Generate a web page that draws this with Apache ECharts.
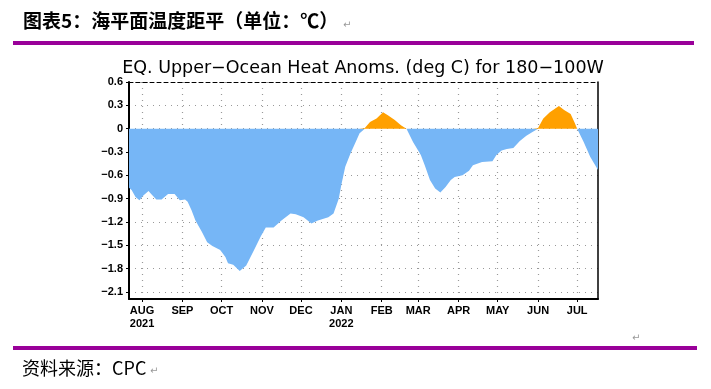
<!DOCTYPE html>
<html><head><meta charset="utf-8">
<script src="https://cdn.jsdelivr.net/npm/echarts@6/dist/echarts.min.js"></script>
<style>html,body{margin:0;padding:0;background:#fff}#c{width:711px;height:389px}</style>
</head><body><div id="c"></div>
<script>
// days since 2021-08-01
const days = [-10,-8,-5,-2,1,5,7,11,15,20,25,29,33,35,38,41,46,50,54,60,64,66,70,75,80,86,91,95,101,107,114,118,124,130,135,143,147,151,153,156,160,164,167,171,175,180,185,189,194,199,203,208,214,217,221,225,229,233,237,240,246,251,254,261,269,272,276,280,285,290,295,300,304,308,313,320,324,329,332,334,339,344,350];
const anomaly = [-0.76,-0.79,-0.88,-0.92,-0.86,-0.80,-0.84,-0.91,-0.91,-0.84,-0.84,-0.92,-0.91,-0.94,-1.05,-1.18,-1.33,-1.46,-1.51,-1.56,-1.65,-1.73,-1.75,-1.83,-1.76,-1.56,-1.39,-1.27,-1.27,-1.18,-1.09,-1.10,-1.14,-1.22,-1.18,-1.14,-1.09,-0.90,-0.72,-0.49,-0.32,-0.17,-0.06,0.01,0.085,0.13,0.21,0.17,0.11,0.04,0.0,-0.17,-0.34,-0.47,-0.66,-0.77,-0.82,-0.75,-0.66,-0.62,-0.60,-0.54,-0.47,-0.43,-0.42,-0.34,-0.28,-0.26,-0.25,-0.16,-0.09,-0.04,0.01,0.13,0.21,0.29,0.24,0.19,0.08,0.0,-0.17,-0.36,-0.53];
const monthDays = [0,31,61,92,122,153,184,212,243,273,304,334];
const monthLabels = ['AUG\n2021','SEP','OCT','NOV','DEC','JAN\n2022','FEB','MAR','APR','MAY','JUN','JUL'];
const yTicks = [0.6,0.3,0,-0.3,-0.6,-0.9,-1.2,-1.5,-1.8,-2.1];

const chart = echarts.init(document.getElementById('c'));
const negData = days.map((d,i)=>[d, Math.min(anomaly[i],0)]);
const posData = days.map((d,i)=>[d, Math.max(anomaly[i],0)]);
const labFont = {fontFamily:'Liberation Sans Narrow, Liberation Sans, Arial', fontWeight:'bold', fontSize:11, color:'#000'};
const ymin = -2.19, ymax = 0.6, xmin = -10, xmax = 350;
const dotLine = {show:true, lineStyle:{type:[1,5], color:'#999', width:1.2}};
chart.setOption({
  animation:false,
  grid: {left:129, right:113, top:82, bottom:90},
  xAxis: [{
    type:'value', min:xmin, max:xmax, position:'bottom',
    axisLine:{show:true, onZero:false, lineStyle:{color:'#000', width:2}},
    axisTick:{show:true, customValues:monthDays, length:3, lineStyle:{color:'#000'}},
    axisLabel:Object.assign({customValues:monthDays, margin:5, lineHeight:13,
      formatter:v=>{const i=monthDays.indexOf(v); return i>=0?monthLabels[i]:'';}}, labFont),
    splitLine:dotLine
  },{
    type:'value', min:xmin, max:xmax, position:'top',
    axisLine:{show:true, onZero:false, lineStyle:{color:'#000', width:1, type:[4,3]}},
    axisTick:{show:false}, axisLabel:{show:false}, splitLine:{show:false}
  }],
  yAxis: [{
    type:'value', min:ymin, max:ymax, position:'left',
    axisLine:{show:true, onZero:false, lineStyle:{color:'#000', width:2}},
    axisTick:{show:true, customValues:yTicks, length:3, lineStyle:{color:'#000'}},
    axisLabel:Object.assign({customValues:yTicks, margin:6,
      formatter:v=>{ if (Math.abs(v)<1e-9) return '0'; return (v<0?'\u2212':'')+Math.abs(v).toFixed(1);}}, labFont),
    splitLine:dotLine
  },{
    type:'value', min:ymin, max:ymax, position:'right',
    axisLine:{show:true, onZero:false, lineStyle:{color:'#000', width:1.5}},
    axisTick:{show:false}, axisLabel:{show:false}, splitLine:{show:false}
  }],
  series: [{
    name:'neg', type:'line', xAxisIndex:0, yAxisIndex:0, data:negData,
    showSymbol:false, symbol:'none', silent:true,
    lineStyle:{width:0}, itemStyle:{color:'#76b6f6'},
    areaStyle:{opacity:1, color:'#76b6f6', origin:0}, z:2
  },{
    name:'pos', type:'line', xAxisIndex:0, yAxisIndex:0, data:posData,
    showSymbol:false, symbol:'none', silent:true,
    lineStyle:{width:0}, itemStyle:{color:'#ffa000'},
    areaStyle:{opacity:1, color:'#ffa000', origin:0}, z:2
  }],
  graphic: [
    {type:'text', left:23, top:11, style:{text:'图表5：海平面温度距平（单位：℃）', font:'bold 19px "Noto Sans CJK SC"', fill:'#000'}},
    {type:'text', left:343, top:20, style:{text:'↵', font:'10px "DejaVu Sans"', fill:'#999'}},
    {type:'rect', shape:{x:13, y:41, width:681, height:4}, style:{fill:'#990099'}},
    {type:'text', x:363, y:68, style:{text:'EQ. Upper\u2212Ocean Heat Anoms. (deg C) for 180\u2212100W', font:'17.5px "DejaVu Sans"', fill:'#000', align:'center', verticalAlign:'middle'}},
    {type:'text', left:632, top:333, style:{text:'↵', font:'10px "DejaVu Sans"', fill:'#999'}},
    {type:'rect', shape:{x:13, y:346, width:684, height:4}, style:{fill:'#990099'}},
    {type:'text', left:22, top:359, style:{text:'资料来源：CPC', font:'18px "Noto Sans CJK SC"', fill:'#000'}},
    {type:'text', left:150, top:366, style:{text:'↵', font:'10px "DejaVu Sans"', fill:'#999'}}
  ]
});
</script></body></html>
